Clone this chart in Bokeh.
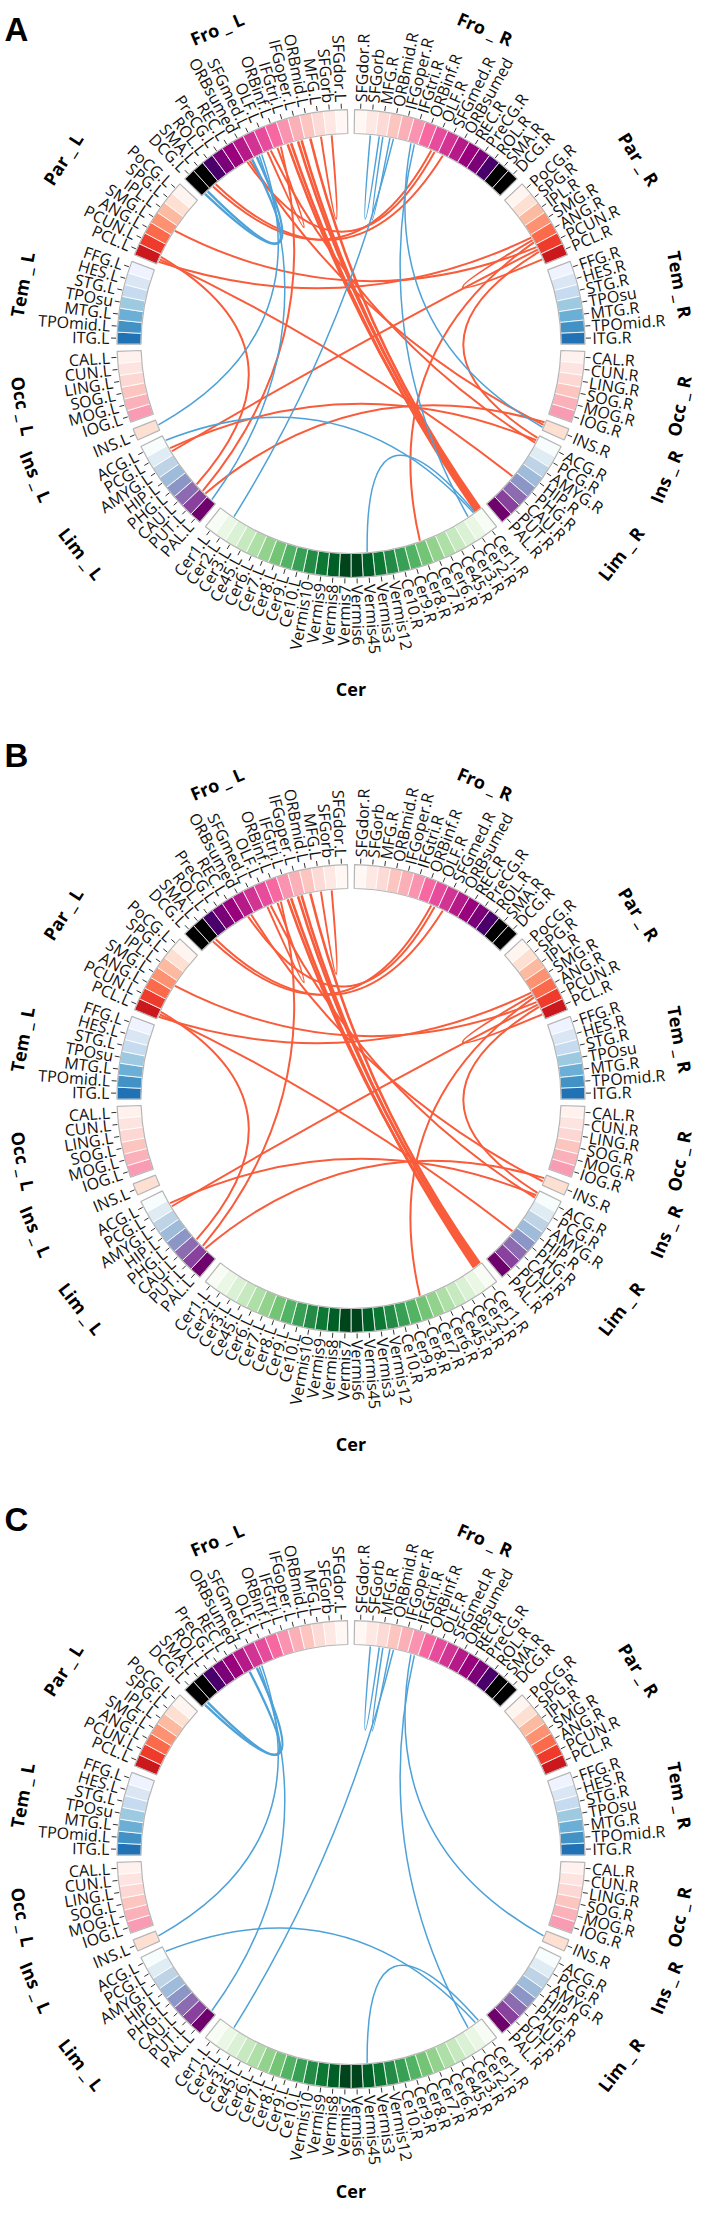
import math
from bokeh.plotting import figure
from bokeh.models import Range1d
from bokeh.embed import file_html
from bokeh.resources import INLINE
from bokeh.core.properties import value

# ---------------- data ----------------
region_names = ["Fro_R", "Par_R", "Tem_R", "Occ_R", "Ins_R", "Lim_R", "Cer",
                "Lim_L", "Ins_L", "Occ_L", "Tem_L", "Par_L", "Fro_L"]
region_titles = ["Fro _ R", "Par _ R", "Tem _ R", "Occ _ R", "Ins _ R", "Lim _ R", "Cer",
                 "Lim _ L", "Ins _ L", "Occ _ L", "Tem _ L", "Par _ L", "Fro _ L"]

fro_ids = ["SFGdor.R", "SFGorb.R", "MFG.R", "ORBmid.R", "IFGoper.R", "IFGtri.R", "ORBinf.R", "OLF.R",
           "SFGmed.R", "ORBsumed.R", "REC.R", "PreCG.R", "ROL.R", "SMA.R", "DCG.R"]
fro_labels = ["SFGdor.R", "SFGorb", "MFG.R", "ORBmid.R", "IFGoper.R", "IFGtri.R", "ORBinf.R", "OLF.R",
              "SFGmed.R", "ORBsumed", "REC.R", "PreCG.R", "ROL.R", "SMA.R", "DCG.R"]
par_ids = ["PoCG.R", "SPG.R", "IPL.R", "SMG.R", "ANG.R", "PCUN.R", "PCL.R"]
par_labels = par_ids
tem_ids = ["FFG.R", "HES.R", "STG.R", "TPOsu.R", "MTG.R", "TPOmid.R", "ITG.R"]
tem_labels = ["FFG.R", "HES.R", "STG.R", "TPOsu", "MTG.R", "TPOmid.R", "ITG.R"]
occ_ids = ["CAL.R", "CUN.R", "LING.R", "SOG.R", "MOG.R", "IOG.R"]
occ_labels = occ_ids
ins_ids = ["INS.R"]
ins_labels = ins_ids
lim_ids = ["ACG.R", "PCG.R", "AMYG.R", "HIP.R", "PHG.R", "CAU.R", "PUT.R", "PAL.R"]
lim_labels = lim_ids
cer_ids = ["Cer1.R", "Cer2.R", "Cer3.R", "Ce45.R", "Cer6.R", "Cer7.R", "Cer8.R", "Cer9.R", "Ce10.R",
           "Vermis12", "Vermis3", "Vermis45", "Vermis6", "Vermis7", "Vermis8", "Vermis9", "Vermis10",
           "Ce10.L", "Cer9.L", "Cer8.L", "Cer7.L", "Cer6.L", "Ce45.L", "Cer3.L", "Cer2.L", "Cer1.L"]

fro_colors = ["#fff7f3", "#fde8e4", "#fcdad5", "#fcc5c0", "#fbb0b8", "#f993b0", "#f768a1", "#e74c9c",
              "#d23494", "#b51a88", "#9a017c", "#7a0177", "#49006a", "#000000", "#000000"]
par_colors = ["#fff5f0", "#fee0d2", "#fcbba1", "#fc9272", "#fb6a4a", "#ef3b2c", "#cb181d"]
tem_colors = ["#eff3ff", "#dbe6f5", "#c6dbef", "#9ecae1", "#6baed6", "#4292c6", "#2171b5"]
occ_colors = ["#fff1ee", "#fee4e0", "#fdd7d4", "#fcc5c0", "#fbb1ba", "#f99cb3"]
ins_colors = ["#fde0d2"]
lim_colors = ["#f7fcfd", "#e0ecf4", "#bfd3e6", "#9ebcda", "#8c96c6", "#8c6bb1", "#88419d", "#6e016b"]
cer_half_colors = ["#f7fcf5", "#ebf7e5", "#dbf1d6", "#c7e9c0", "#aedfa7", "#92d28c", "#74c476",
                   "#52b365", "#37a055", "#238b45", "#0c7834", "#005f26", "#00441b"]

# links: red (shown in A and B), blue (shown in A and C)
red_from = ["SFGorb.L", "ORBmid.L", "IFGoper.L", "IFGoper.L", "IFGtri.L", "IFGtri.L", "SMA.L", "SMA.L",
            "ORBsumed.L", "ORBinf.L", "SMG.L", "PCL.L", "PCL.L", "PCL.L", "ANG.R", "PCUN.R", "PCUN.R",
            "Cer8.R", "PCG.L", "PUT.L", "ORBsumed.L", "OLF.L", "ORBinf.L"]
red_to = ["MFG.L", "Cer1.R", "Cer1.R", "Cer1.R", "Cer1.R", "Cer1.R", "OLF.R", "SFGmed.R",
          "OLF.R", "OLF.L", "PCUN.R", "ANG.R", "PHG.R", "CAU.L", "PCL.R", "PCG.L", "ACG.R",
          "ANG.R", "ACG.R", "INS.R", "INS.R", "ACG.R", "PUT.L"]
red_width = [2, 2.6, 2.6, 2.6, 2.6, 2.6, 2, 2, 2, 2, 2, 2, 2, 2, 2, 2, 2, 2, 2, 2, 2, 2, 2]

blue_from = ["SFGorb.R", "MFG.R", "ORBmid.R", "IFGtri.R", "IFGtri.R", "DCG.L", "DCG.L", "SFGmed.L",
             "SFGmed.L", "Vermis45", "ACG.L"]
blue_to = ["MFG.R", "ORBmid.R", "Cer2.L", "INS.R", "Cer2.R", "SFGmed.L", "ORBsumed.L", "PAL.L",
           "INS.L", "Cer1.R", "Cer1.R"]
blue_width = [1.5, 1.5, 1.5, 1.5, 1.5, 2.4, 2.4, 1.5, 1.5, 1.5, 1.5]

RED = "#F95C3B"
BLUE = "#4EA2D8"

panel_letters = ["A", "B", "C"]
# ---------------- layout ----------------
PAGE_H = 2218
CX = 358.5
CY_PAGE = [351, 1106, 1862]
LETTER_Y = [37, 763, 1527]
R_OUT, R_IN = 234, 210
R_LINK = 209
GAP = 1.735
CTRL_K = 0.2


def left(s):
    return s[:-2] + ".L" if s.endswith(".R") else s


reg_sectors = {}
reg_labels = {}
reg_colors = {}
right_sets = {"Fro": (fro_ids, fro_labels, fro_colors), "Par": (par_ids, par_labels, par_colors),
              "Tem": (tem_ids, tem_labels, tem_colors), "Occ": (occ_ids, occ_labels, occ_colors),
              "Ins": (ins_ids, ins_labels, ins_colors), "Lim": (lim_ids, lim_labels, lim_colors)}
for k, (ids, labs, cols) in right_sets.items():
    reg_sectors[k + "_R"] = list(ids)
    reg_labels[k + "_R"] = list(labs)
    reg_colors[k + "_R"] = list(cols)
    reg_sectors[k + "_L"] = [left(s) for s in ids][::-1]
    reg_labels[k + "_L"] = [left(s) for s in labs][::-1]
    reg_colors[k + "_L"] = list(cols)[::-1]
reg_sectors["Cer"] = cer_ids
reg_labels["Cer"] = cer_ids
reg_colors["Cer"] = cer_half_colors + cer_half_colors[::-1]

n_total = sum(len(reg_sectors[r]) for r in region_names)
SW = (360.0 - GAP * len(region_names)) / n_total

sec_span = {}
reg_span = {}
cur = GAP / 2
for r in region_names:
    st = cur
    for s in reg_sectors[r]:
        sec_span[s] = (cur, cur + SW)
        cur += SW
    reg_span[r] = (st, cur)
    cur += GAP


def pt(cx, cy, r, th):
    t = math.radians(th)
    return cx + r * math.sin(t), cy + r * math.cos(t)


p = figure(width=704, height=2202, x_range=Range1d(8, 712), y_range=Range1d(8, 2210),
           output_backend="svg", toolbar_location=None, min_border=0,
           x_axis_type=None, y_axis_type=None)
p.grid.visible = False
p.outline_line_color = None
p.background_fill_color = "white"
p.border_fill_color = "white"

LABEL_FONT = value("Open Sans")


def title_radius(r, panel):
    if r.startswith("Tem") or r.startswith("Occ"):
        return 334
    if r == "Cer":
        return 345 if panel < 2 else 336
    return 342


def draw_panel(cy, links, panel):
    # sectors
    xs, ys, sa, ea, fc = [], [], [], [], []
    for r in region_names:
        for s, c in zip(reg_sectors[r], reg_colors[r]):
            a0, a1 = sec_span[s]
            xs.append(CX); ys.append(cy)
            sa.append(math.radians(90 - a1)); ea.append(math.radians(90 - a0)); fc.append(c)
    p.annular_wedge(x=xs, y=ys, inner_radius=R_IN, outer_radius=R_OUT, start_angle=sa, end_angle=ea,
                    fill_color=fc, line_color="white", line_width=0.8)
    ox, oy, osa, oea = [], [], [], []
    for r in region_names:
        a0, a1 = reg_span[r]
        ox.append(CX); oy.append(cy)
        osa.append(math.radians(90 - a1)); oea.append(math.radians(90 - a0))
    p.annular_wedge(x=ox, y=oy, inner_radius=R_IN, outer_radius=R_OUT, start_angle=osa, end_angle=oea,
                    fill_color=None, line_color="#b5b5b5", line_width=1.2)
    # ticks & labels
    tx0, ty0, tx1, ty1 = [], [], [], []
    rl = {"x": [], "y": [], "t": [], "a": []}
    ll = {"x": [], "y": [], "t": [], "a": []}
    for r in region_names:
        for s, lab in zip(reg_sectors[r], reg_labels[r]):
            a0, a1 = sec_span[s]
            m = (a0 + a1) / 2
            x0, y0 = pt(CX, cy, R_OUT + 1, m)
            x1, y1 = pt(CX, cy, R_OUT + 6, m)
            tx0.append(x0); ty0.append(y0); tx1.append(x1); ty1.append(y1)
            lx, ly = pt(CX, cy, R_OUT + 7.5, m)
            if m < 180:
                rl["x"].append(lx); rl["y"].append(ly); rl["t"].append(lab); rl["a"].append(math.radians(90 - m))
            else:
                ll["x"].append(lx); ll["y"].append(ly); ll["t"].append(lab); ll["a"].append(math.radians(270 - m))
    p.segment(x0=tx0, y0=ty0, x1=tx1, y1=ty1, line_color="#333333", line_width=1)
    p.text(x=rl["x"], y=rl["y"], text=rl["t"], angle=rl["a"], text_align="left", text_baseline="middle",
           text_font=LABEL_FONT, text_font_size="16px", text_color="#111111")
    p.text(x=ll["x"], y=ll["y"], text=ll["t"], angle=ll["a"], text_align="right", text_baseline="middle",
           text_font=LABEL_FONT, text_font_size="16px", text_color="#111111")
    # region titles
    gx, gy, gt, ga = [], [], [], []
    for r, title in zip(region_names, region_titles):
        a0, a1 = reg_span[r]
        m = (a0 + a1) / 2
        x, y = pt(CX, cy, title_radius(r, panel), m)
        gx.append(x); gy.append(y); gt.append(title)
        ga.append(math.radians(-m) if (m < 90 or m > 270) else math.radians(180 - m))
    p.text(x=gx, y=gy, text=gt, angle=ga, text_align="center", text_baseline="middle",
           text_font=value("Open Sans"), text_font_style="bold", text_font_size="18px", text_color="black")
    # links
    counts = {}
    for (a, b, col, w) in links:
        counts[a] = counts.get(a, 0) + 1
        counts[b] = counts.get(b, 0) + 1
    used = {}
    X0, Y0, X1, Y1, QX, QY, C, LW = [], [], [], [], [], [], [], []
    for (a, b, col, w) in links:
        ends = []
        for s in (a, b):
            k = used.get(s, 0)
            used[s] = k + 1
            a0, a1 = sec_span[s]
            th = a0 + (a1 - a0) * (k + 1) / (counts[s] + 1)
            ends.append(pt(CX, cy, R_LINK, th))
        (xa, ya), (xb, yb) = ends
        X0.append(xa); Y0.append(ya); X1.append(xb); Y1.append(yb)
        QX.append(CX + CTRL_K * ((xa + xb) / 2 - CX))
        QY.append(cy + CTRL_K * ((ya + yb) / 2 - cy))
        C.append(col); LW.append(w)
    p.quadratic(x0=X0, y0=Y0, x1=X1, y1=Y1, cx=QX, cy=QY, line_color=C, line_width=LW)


red_links = [(a, b, RED, w) for a, b, w in zip(red_from, red_to, red_width)]
blue_links = [(a, b, BLUE, w) for a, b, w in zip(blue_from, blue_to, blue_width)]
panel_links = [red_links + blue_links, red_links, blue_links]

for i in range(3):
    cy = PAGE_H - CY_PAGE[i]
    draw_panel(cy, panel_links[i], i)
    p.text(x=[12], y=[PAGE_H - LETTER_Y[i]], text=[panel_letters[i]], text_align="left",
           text_baseline="alphabetic", text_font=value("Liberation Sans"), text_font_style="bold",
           text_font_size="33px", text_color="black")

open("out.html", "w").write(file_html(p, INLINE))
